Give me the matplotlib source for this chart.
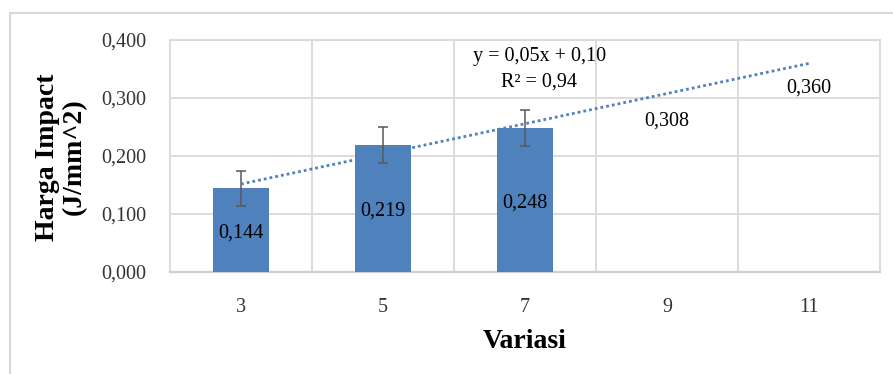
import numpy as np
import matplotlib
matplotlib.use("Agg")
import matplotlib.pyplot as plt
from matplotlib.patches import Rectangle

# ---- data ----
categories = ["3", "5", "7", "9", "11"]
values = [0.144, 0.219, 0.248]
errors = [0.031, 0.031, 0.031]
forecast_labels = [0.308, 0.360]
y_ticks = [0.0, 0.1, 0.2, 0.3, 0.4]

plt.rcParams['font.family'] = ['Liberation Serif', 'DejaVu Serif']

W, H = 893, 374
fig = plt.figure(figsize=(W / 100, H / 100), dpi=100)
ax = fig.add_axes([170 / W, 1 - 272 / H, (880 - 170) / W, (272 - 40) / H])

bar_color = "#4F81BD"
grid_color = "#D9D9D9"
fs = 14.5

pos = np.arange(len(categories))
bpos = pos[:len(values)]
bars = ax.bar(bpos, values, width=0.4, color=bar_color, zorder=3,
              yerr=errors, error_kw=dict(ecolor="#595959", elinewidth=1.1,
                                         capsize=3.8, capthick=1.1, zorder=4))

for b, v in zip(bars, values):
    ax.text(b.get_x() + b.get_width() / 2, v / 2, f"{v:.3f}".replace(".", ","),
            ha="center", va="center_baseline", fontsize=fs, color="#000000", zorder=5)

# linear trendline (Excel style, x = 1..n)
xfit = bpos + 1
slope, intercept = np.polyfit(xfit, values, 1)
pred = slope * xfit + intercept
r2 = 1 - np.sum((np.array(values) - pred) ** 2) / np.sum((np.array(values) - np.mean(values)) ** 2)
xt = pos + 1
ax.plot(pos, slope * xt + intercept, color=bar_color, lw=2.0,
        linestyle=(0, (1, 1.1)), zorder=4)

# forecast labels
fpos = pos[len(values):]
for p, v, off in zip(fpos, forecast_labels, [-18, -16]):
    ax.annotate(f"{v:.3f}".replace(".", ","), xy=(p, v), xytext=(0, off),
                textcoords="offset points", ha="center", va="center_baseline",
                fontsize=fs, color="#000000", zorder=5)

ax.text(2.1, 0.371, f"y = {slope:.2f}x + {intercept:.2f}".replace(".", ","),
        ha="center", va="center", fontsize=fs, color="#000000")
ax.text(2.1, 0.328, f"R² = {r2:.2f}".replace(".", ","),
        ha="center", va="center", fontsize=fs, color="#000000")

ax.set_xlim(-0.5, len(categories) - 0.5)
ax.set_ylim(0, 0.4)
ax.set_yticks(y_ticks)
ax.set_yticklabels([f"{t:.3f}".replace(".", ",") for t in y_ticks])
ax.set_xticks(pos)
ax.set_xticklabels(categories)
ax.tick_params(axis="both", length=0, labelsize=fs, labelcolor="#333333")
ax.tick_params(axis="x", pad=19)
ax.tick_params(axis="y", pad=17)

# grid: horizontal at ticks, vertical between categories
ax.set_axisbelow(True)
ax.yaxis.grid(True, color=grid_color, lw=1.3)
ax.set_xticks(pos[:-1] + 0.5, minor=True)
ax.xaxis.grid(True, which="minor", color=grid_color, lw=1.3)
ax.tick_params(axis="x", which="minor", length=0)
for s in ax.spines.values():
    s.set_color(grid_color)
    s.set_linewidth(1.3)
ax.spines["bottom"].set_color("#CFCFCF")
ax.spines["bottom"].set_linewidth(1.6)

ax.set_xlabel("Variasi", fontsize=20, fontweight="bold", labelpad=8)
fig.text(61 / W, 1 - 157 / H, "Harga Impact\n(J/mm^2)", rotation=90,
         ha="center", va="center", fontsize=20, fontweight="bold",
         linespacing=1.1)

# outer chart border
fig.patches.append(Rectangle((10 / W, -0.05), 1.0, 1 - 13 / H + 0.05,
                             transform=fig.transFigure, fill=False,
                             edgecolor="#D9D9D9", lw=1.5, clip_on=False))

fig.savefig("out.png", dpi=100)
